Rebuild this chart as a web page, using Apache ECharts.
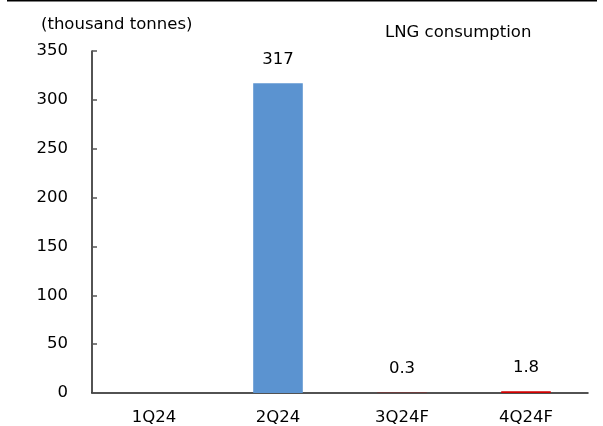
<!DOCTYPE html>
<html>
<head>
<meta charset="utf-8">
<style>
  html, body { margin: 0; padding: 0; background: #fff; }
  #chart { width: 603px; height: 426px; }
</style>
<script src="https://cdn.jsdelivr.net/npm/echarts@6/dist/echarts.min.js"></script>
</head>
<body>
<div id="chart"></div>
<script>
// Quarterly LNG consumption, thousand tonnes (F = forecast)
const quarters = ['1Q24', '2Q24', '3Q24F', '4Q24F'];
const consumption = [null, 317, 0.3, 1.8];
const yTicks = { min: 0, max: 350, step: 50 };

const unitLabel = '(thousand tonnes)';
const seriesName = 'LNG consumption';

const barColors = ['#5B93D0', '#5B93D0', '#C00000', '#D00000'];
const FONT = 'DejaVu Sans';
const FS = 16.5;

const chart = echarts.init(document.getElementById('chart'), null, { renderer: 'canvas' });

chart.setOption({
  animation: false,
  backgroundColor: '#ffffff',
  textStyle: { fontFamily: FONT },
  grid: { left: 92, right: 15, top: 51, bottom: 33, containLabel: false },
  graphic: [
    {
      type: 'line',
      shape: { x1: 7, y1: 0.5, x2: 597, y2: 0.5 },
      style: { stroke: '#000', lineWidth: 2 }
    },
    {
      type: 'text',
      left: 41, top: 16,
      style: { text: unitLabel, font: FS + 'px "' + FONT + '"', fill: '#000' }
    },
    {
      type: 'text',
      left: 385, top: 24,
      style: { text: seriesName, font: FS + 'px "' + FONT + '"', fill: '#000' }
    }
  ],
  xAxis: {
    type: 'category',
    data: quarters,
    axisLine: { show: true, lineStyle: { color: '#1a1a1a', width: 1.5 } },
    axisTick: { show: false },
    axisLabel: { color: '#000', fontSize: FS, fontFamily: FONT, margin: 16 },
    splitLine: { show: false }
  },
  yAxis: {
    type: 'value',
    min: yTicks.min,
    max: yTicks.max,
    interval: yTicks.step,
    axisLine: { show: true, lineStyle: { color: '#1a1a1a', width: 1.5 } },
    axisTick: { show: true, inside: true, length: 5, lineStyle: { color: '#555', width: 1.5 } },
    axisLabel: { color: '#000', fontSize: FS, fontFamily: FONT, margin: 24 },
    splitLine: { show: false }
  },
  series: [{
    name: seriesName,
    type: 'bar',
    barWidth: '40%',
    data: consumption.map((v, i) => ({
      value: v,
      itemStyle: { color: barColors[i] }
    })),
    label: {
      show: true,
      position: 'top',
      distance: 15,
      color: '#000',
      fontSize: FS,
      fontFamily: FONT,
      formatter: p => (p.value == null ? '' : String(p.value))
    }
  }]
});
</script>
</body>
</html>
